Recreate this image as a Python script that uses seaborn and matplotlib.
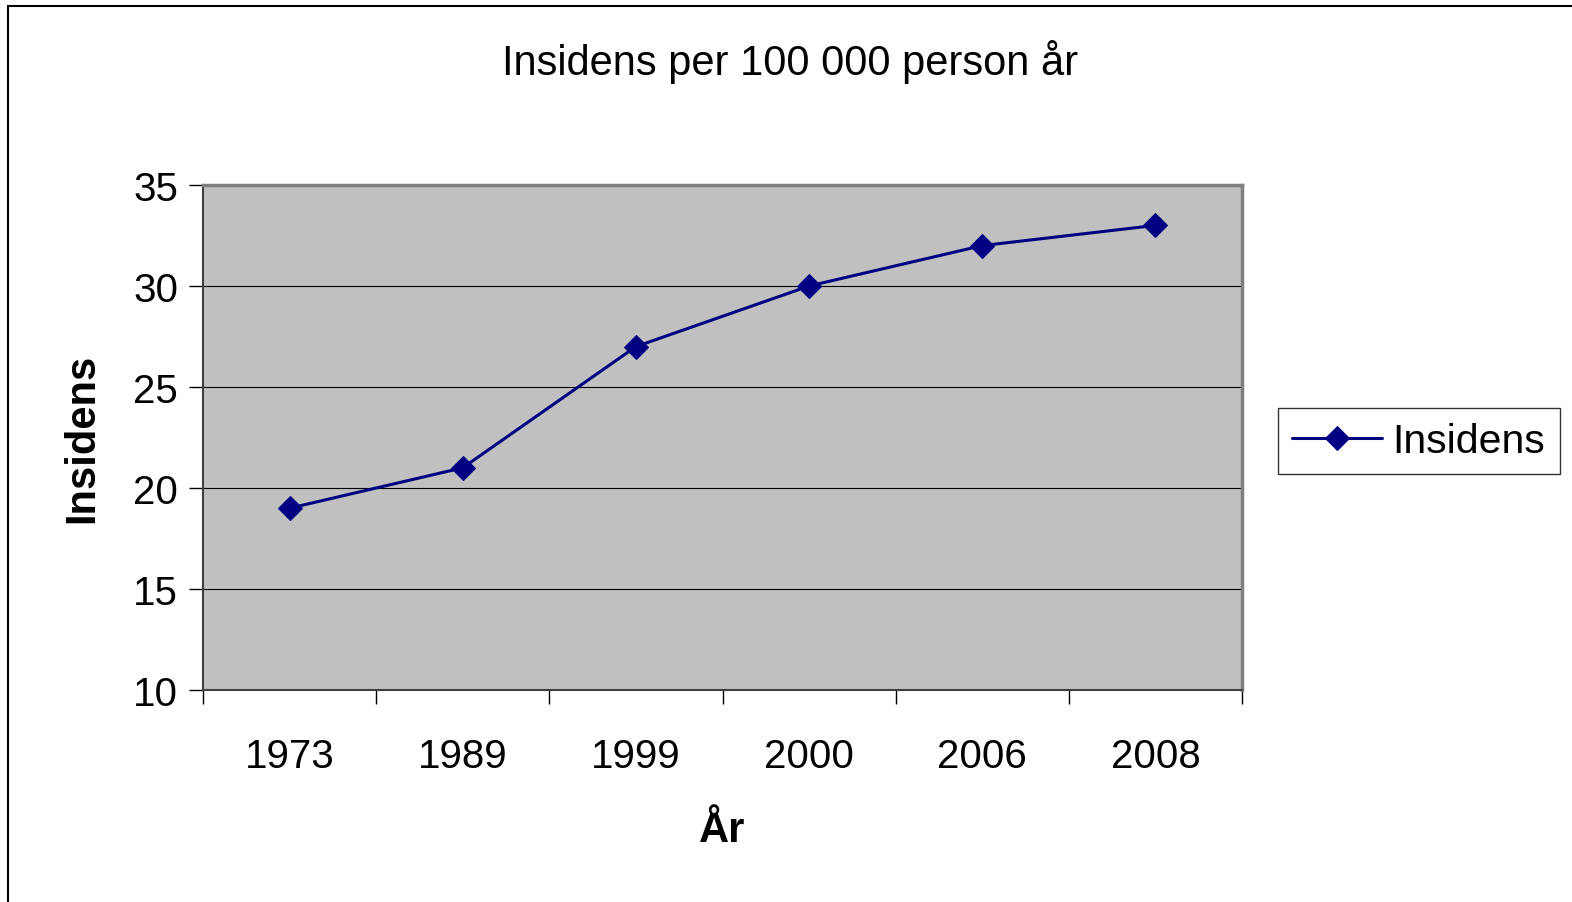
import pandas as pd
import matplotlib
matplotlib.use("Agg")
import matplotlib.pyplot as plt
import seaborn as sns
from matplotlib.patches import Rectangle

years = ["1973", "1989", "1999", "2000", "2006", "2008"]
insidens = [19, 21, 27, 30, 32, 33]
y_ticks = [10, 15, 20, 25, 30, 35]

df = pd.DataFrame({"År": years, "Insidens": insidens})

sns.set_style("white")
plt.rcParams["font.family"] = ["Liberation Sans", "DejaVu Sans"]
plt.rcParams["text.color"] = "black"
plt.rcParams["axes.labelcolor"] = "black"
plt.rcParams["xtick.color"] = "black"
plt.rcParams["ytick.color"] = "black"

fig = plt.figure(figsize=(15.72, 9.03), dpi=100)
ax = fig.add_axes([203 / 1572, 1 - 691 / 903, (1242 - 203) / 1572, (691 - 186) / 903])
ax.set_facecolor("#c0c0c0")

sns.lineplot(
    data=df,
    x="År",
    y="Insidens",
    marker="D",
    markersize=12,
    color="#000080",
    linewidth=2.2,
    markeredgecolor="#000080",
    label="Insidens",
    ax=ax,
    legend=False
)

ax.set_xlim(-0.5, len(years) - 0.5)
ax.set_ylim(10, 35)
ax.set_yticks(y_ticks)
ax.yaxis.grid(True, color="black", linewidth=0.8)
ax.set_axisbelow(True)

# ticks between categories, like the spreadsheet axis
ax.set_xticks([i - 0.5 for i in range(len(years) + 1)], minor=True)
ax.tick_params(axis="x", which="minor", length=10, width=1, color="black", direction="out", bottom=True)
ax.tick_params(axis="x", which="major", length=0, labelsize=29, pad=34)
ax.tick_params(axis="y", length=10, width=1, color="black", direction="out", left=True, labelsize=29, pad=8)

for side in ["top", "right"]:
    ax.spines[side].set_color("#808080")
    ax.spines[side].set_linewidth(2.5)
for side in ["left", "bottom"]:
    ax.spines[side].set_color("#404040")
    ax.spines[side].set_linewidth(1.5)

ax.set_xlabel("År", fontsize=30, fontweight="bold", labelpad=25)
ax.set_ylabel("Insidens", fontsize=30, fontweight="bold", labelpad=22)

fig.text(790 / 1572, 1 - 62 / 903, "Insidens per 100 000 person år",
         ha="center", va="center", fontsize=30)

leg = fig.legend(
    handles=ax.get_lines()[:1],
    labels=["Insidens"],
    loc="center left",
    bbox_to_anchor=(1278 / 1572, 1 - 442 / 903),
    borderaxespad=0,
    fontsize=29.5,
    frameon=True,
    fancybox=False,
    edgecolor="black",
    borderpad=0.35,
    handlelength=2.2,
    handletextpad=0.25,
)
leg.get_frame().set_linewidth(1.0)

fig.patches.append(Rectangle((8 / 1572, -0.1), 1.2, 1 - 7 / 903 + 0.1,
                             transform=fig.transFigure, fill=False,
                             edgecolor="black", linewidth=1.5))

plt.savefig("out.png", dpi=100)
plt.close()
